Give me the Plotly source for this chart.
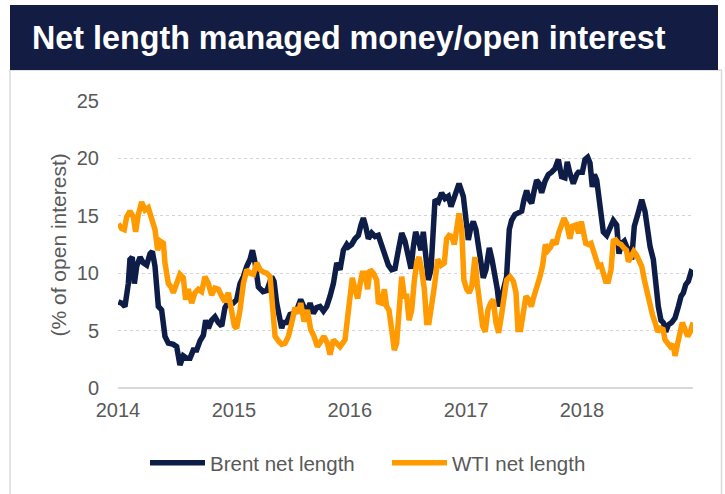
import pandas as pd
import plotly.graph_objects as go

# ---- data (time in years since 2014-01-01, value in % of open interest) ----
brent_t = [0.003,0.031,0.060,0.089,0.103,0.123,0.141,0.161,0.190,0.218,
           0.247,0.276,0.296,0.319,0.348,0.376,0.405,0.434,0.477,0.506,
           0.534,0.563,0.592,0.621,0.649,0.678,0.707,0.736,0.756,0.779,
           0.807,0.836,0.865,0.894,0.922,0.951,0.994,
           1.023,1.052,1.081,1.110,1.138,1.159,1.182,1.210,1.250,1.284,
           1.325,1.345,1.368,1.411,1.426,1.454,1.483,1.512,1.541,1.575,
           1.598,1.627,1.656,1.684,1.713,1.742,1.771,1.799,1.828,1.857,
           1.886,1.914,1.943,1.972,
           1.986,2.014,2.043,2.072,2.095,2.115,2.135,2.158,2.187,2.216,
           2.244,2.273,2.302,2.331,2.359,2.388,2.417,2.446,2.474,2.503,
           2.526,2.546,2.566,2.589,2.612,2.632,2.652,2.675,2.698,2.718,
           2.733,2.762,2.790,2.819,2.848,2.871,2.891,2.920,2.940,
           2.977,3.000,3.020,3.040,3.063,3.086,3.106,3.126,3.149,3.172,
           3.201,3.224,3.247,3.270,3.287,3.307,3.327,3.350,3.373,3.393,
           3.422,3.451,3.480,3.500,3.523,3.546,3.566,3.586,3.609,3.632,
           3.652,3.681,3.710,3.738,3.767,3.796,3.824,3.853,3.873,3.896,
           3.925,3.954,
           3.969,4.003,4.026,4.049,4.069,4.089,4.107,4.127,4.147,4.164,
           4.184,4.213,4.242,4.270,4.299,4.319,4.342,4.365,4.385,4.406,
           4.428,4.451,4.480,4.515,4.543,4.566,4.587,4.615,4.635,4.658,
           4.681,4.701,4.722,4.745,4.773,4.802,4.831,4.854,4.874,4.894,
           4.917,4.940,4.957]
brent_v = [7.5,7.4,7.1,9.1,11.2,11.4,9.1,10.6,11.4,10.9,
           10.7,11.7,11.9,10.6,7.1,6.8,4.5,3.9,3.8,3.6,
           2.0,2.8,2.6,2.6,3.3,3.3,4.1,4.6,5.9,5.2,
           5.9,6.2,5.7,5.4,7.0,7.5,7.4,
           7.7,9.1,9.7,10.6,11.2,12.0,10.9,8.8,8.4,8.5,
           9.7,9.3,7.4,5.2,5.7,5.7,6.4,6.5,6.8,7.7,
           7.1,6.5,7.4,6.5,7.0,7.1,6.7,7.1,8.0,9.1,
           10.9,10.3,12.0,12.5,
           12.3,12.5,13.0,13.3,14.2,14.8,14.1,13.0,13.5,13.2,
           13.3,12.3,11.4,10.7,10.3,10.4,12.0,13.5,12.8,11.3,
           10.4,12.3,13.6,12.9,12.0,13.6,12.0,9.4,10.3,14.9,
           16.4,16.2,17.0,16.5,16.7,15.8,16.4,17.0,17.8,
           16.7,14.5,12.9,13.9,14.5,13.8,12.3,11.2,9.6,10.3,
           12.2,11.2,10.0,8.6,7.1,8.0,8.8,9.7,13.8,14.6,
           15.1,15.2,15.4,16.4,17.2,16.4,16.1,17.1,18.1,17.8,
           17.0,18.0,18.6,18.8,19.1,19.9,18.4,18.3,19.7,18.7,
           17.8,18.6,
           18.8,18.8,19.9,20.1,19.6,17.5,18.6,18.1,16.4,14.3,
           13.6,13.3,13.9,14.6,14.2,11.7,12.6,12.8,12.3,12.0,
           11.2,14.1,15.1,16.4,15.4,13.8,12.3,11.2,9.1,7.1,
           5.9,5.7,4.9,5.5,5.7,6.1,7.1,8.0,8.3,9.0,
           9.3,10.1,10.0]

wti_t = [0.003,0.031,0.054,0.075,0.103,0.132,0.152,0.175,0.204,0.233,
         0.261,0.290,0.319,0.342,0.362,0.391,0.405,0.434,0.457,0.477,
         0.506,0.534,0.563,0.583,0.606,0.635,0.664,0.692,0.721,0.750,
         0.779,0.807,0.836,0.865,0.894,0.922,0.951,0.980,1.003,
         1.023,1.052,1.081,1.110,1.138,1.167,1.196,1.225,1.253,1.282,
         1.311,1.334,1.354,1.383,1.411,1.440,1.469,1.498,1.526,1.555,
         1.575,1.604,1.633,1.661,1.690,1.719,1.748,1.776,1.805,1.828,
         1.857,1.886,1.914,1.943,
         1.957,1.980,2.000,2.020,2.043,2.066,2.086,2.106,2.129,2.152,
         2.173,2.201,2.230,2.244,2.273,2.296,2.316,2.336,2.359,2.382,
         2.402,2.423,2.446,2.468,2.489,2.509,2.532,2.555,2.575,2.595,
         2.618,2.641,2.661,2.681,2.704,2.727,2.756,2.785,2.813,2.833,
         2.854,2.877,2.899,2.920,2.940,2.963,
         2.982,3.006,3.028,3.051,3.077,3.097,3.120,3.143,3.166,3.189,
         3.212,3.235,3.258,3.281,3.304,3.327,3.350,3.379,3.408,3.431,
         3.448,3.471,3.494,3.517,3.540,3.563,3.586,3.615,3.638,3.661,
         3.684,3.707,3.730,3.753,3.776,3.799,3.822,3.845,3.868,3.896,
         3.919,3.948,3.971,3.994,
         4.032,4.055,4.078,4.098,4.118,4.141,4.164,4.184,4.204,4.227,
         4.250,4.270,4.291,4.314,4.337,4.360,4.383,4.400,4.423,4.446,
         4.469,4.492,4.515,4.538,4.561,4.584,4.607,4.630,4.653,4.676,
         4.699,4.716,4.739,4.762,4.785,4.802,4.825,4.848,4.865,4.888,
         4.911,4.934,4.957]
wti_v = [14.3,13.9,13.8,14.9,15.4,14.9,13.6,15.1,16.2,15.5,
         15.7,14.9,13.8,12.0,12.8,12.6,10.9,9.1,8.8,8.3,
         9.1,9.9,9.6,7.7,8.6,7.4,8.3,8.6,8.4,9.7,
         9.1,8.1,8.7,8.6,8.0,7.5,8.3,6.5,5.4,
         5.2,6.8,9.1,10.3,10.0,9.9,10.9,10.3,10.1,10.0,
         9.7,7.4,4.5,4.1,3.8,3.9,4.5,5.7,7.0,6.5,
         7.4,5.8,6.8,5.1,4.5,3.6,4.1,4.5,3.9,2.9,
         4.2,3.9,3.6,4.0,
         4.2,6.2,8.6,9.6,8.6,7.8,9.0,10.0,10.0,8.6,
         10.3,10.0,9.4,7.5,7.4,8.6,7.1,6.8,5.1,3.3,
         3.9,7.4,9.7,8.0,8.0,5.9,6.8,9.4,10.9,11.4,
         10.3,8.6,5.7,5.7,7.1,8.8,11.2,10.7,10.9,13.0,
         13.3,13.2,12.5,14.1,15.2,13.8,
         9.4,8.6,8.3,8.9,11.4,9.1,7.1,5.4,4.9,6.8,
         7.4,7.7,5.7,4.8,6.2,8.0,9.4,9.7,9.3,8.3,
         5.1,5.1,6.5,8.0,7.7,7.1,8.0,8.8,9.7,10.7,
         12.5,12.0,12.3,12.9,12.5,13.5,14.1,14.8,14.3,13.0,
         14.1,14.2,13.5,14.5,
         12.6,12.5,12.6,12.0,11.4,10.6,10.7,9.9,9.3,9.3,
         10.3,12.8,12.9,12.6,12.5,12.2,12.0,11.0,11.6,11.9,
         11.6,11.0,10.6,9.4,8.3,7.1,6.4,5.7,4.9,5.2,
         5.1,4.2,3.8,3.6,3.8,2.8,3.9,5.2,5.7,5.1,
         4.5,4.9,5.7]

series_names = ["Brent net length", "WTI net length"]
series_colors = ["#0E1D47", "#FF9A00"]
year_ticks = ["2014", "2015", "2016", "2017", "2018"]
y_ticks = [0, 5, 10, 15, 20, 25]
title_text = "Net length managed money/open interest"
y_title = "(% of open interest)"

assert len(brent_t) == len(brent_v) and len(wti_t) == len(wti_v)

origin = pd.Timestamp("2014-01-01")


def to_dates(ts):
    return [origin + pd.Timedelta(days=t * 365.25) for t in ts]


W, H = 725, 494
L, R, T, B = 118, 32, 101, 106
pw, ph = W - L - R, H - T - B


def px(x):
    return (x - L) / pw


def py(y):
    return (H - B - y) / ph


FONT = "Arial, Liberation Sans, sans-serif"
GRAY = "#595959"

fig = go.Figure()
for name, col, t, v in [(series_names[0], series_colors[0], brent_t, brent_v),
                        (series_names[1], series_colors[1], wti_t, wti_v)]:
    fig.add_trace(go.Scatter(x=to_dates(t), y=v, mode="lines", name=name,
                             line=dict(color=col, width=5.5)))

fig.update_layout(
    width=W, height=H,
    margin=dict(l=L, r=R, t=T, b=B, autoexpand=False),
    paper_bgcolor="white", plot_bgcolor="white",
    font=dict(family=FONT, color=GRAY, size=20),
    showlegend=True,
    legend=dict(orientation="h", x=px(145), y=py(463), xanchor="left",
                yanchor="middle", font=dict(size=20.5, color=GRAY),
                itemwidth=55, entrywidth=172, tracegroupgap=0,
                bgcolor="rgba(0,0,0,0)"),
    xaxis=dict(type="date",
               range=[origin, origin + pd.Timedelta(days=4.957 * 365.25)],
               tickvals=[pd.Timestamp(f"{y}-01-01") for y in year_ticks],
               ticktext=year_ticks, showgrid=False, zeroline=False,
               showline=False, ticks="", ticklabelstandoff=8,
               tickfont=dict(size=20, color=GRAY)),
    yaxis=dict(range=[0, 25], tickvals=y_ticks, showgrid=True,
               gridcolor="#d4d4d4", griddash="dot", gridwidth=1,
               zeroline=True, zerolinecolor="#d9d9d9", zerolinewidth=2,
               showline=False, ticks="", ticklabelstandoff=18,
               tickfont=dict(size=20, color=GRAY)),
    shapes=[
        dict(type="rect", xref="paper", yref="paper",
             x0=px(10), x1=px(721.5), y0=py(520), y1=py(70),
             line=dict(color="#d9d9d9", width=1.5), fillcolor="rgba(0,0,0,0)",
             layer="below"),
        dict(type="rect", xref="paper", yref="paper",
             x0=px(10), x1=px(718), y0=py(70), y1=py(5),
             line=dict(width=0), fillcolor="#131C42", layer="below"),
    ],
    annotations=[
        dict(text=f"<b>{title_text}</b>", xref="paper", yref="paper",
             x=px(30), y=py(38), xanchor="left", yanchor="middle",
             showarrow=False, font=dict(size=32.3, color="white", family=FONT)),
        dict(text=y_title, xref="paper", yref="paper", x=px(57.5), y=py(245),
             xanchor="center", yanchor="middle", textangle=-90,
             showarrow=False, font=dict(size=21, color=GRAY, family=FONT)),
    ],
)

fig.write_html("out.html",
               config={"displayModeBar": False},
               post_script="document.body.style.margin='0';"
                           "document.body.style.padding='0';")
